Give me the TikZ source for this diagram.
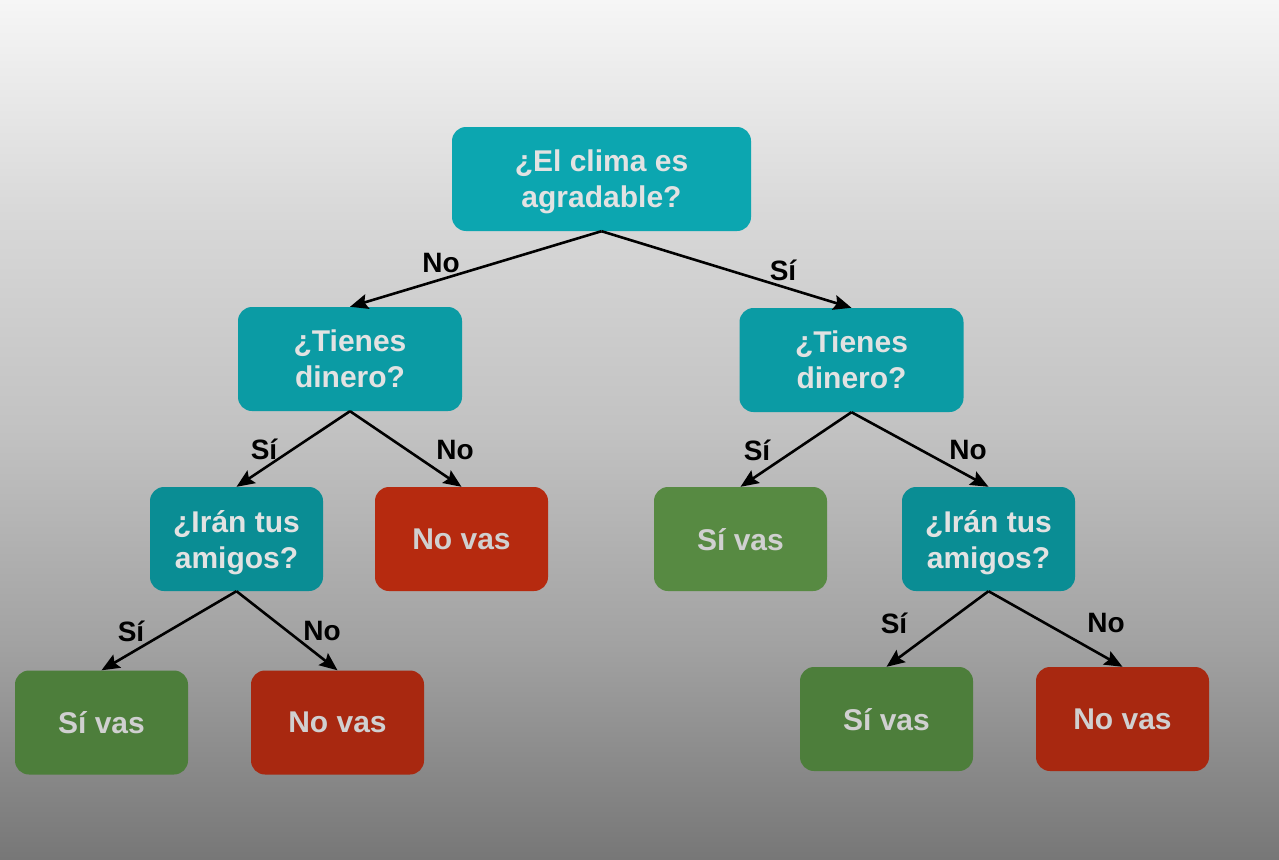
\documentclass[tikz,border=0pt]{standalone}
\usepackage{fontspec}
\setmainfont{Liberation Sans}
\usetikzlibrary{arrows.meta}
\definecolor{bgA}{HTML}{777777}
\definecolor{bgB}{HTML}{A2A2A2}
\definecolor{bgC}{HTML}{C2C2C2}
\definecolor{bgD}{HTML}{D8D8D8}
\definecolor{bgE}{HTML}{F6F6F6}
\definecolor{tealA}{HTML}{0CA6B0}
\definecolor{tealB}{HTML}{0B9BA4}
\definecolor{tealC}{HTML}{0A8D94}
\definecolor{redA}{HTML}{B62A0F}
\definecolor{redB}{HTML}{A82810}
\definecolor{greenA}{HTML}{578A42}
\definecolor{greenB}{HTML}{4D7E3B}
\definecolor{txtA}{HTML}{E2E2E2}
\definecolor{txtB}{HTML}{D0D0D0}
\pgfdeclareverticalshading{bgshade}{100bp}{color(0bp)=(bgA); color(25bp)=(bgA); color(37.5bp)=(bgB); color(50bp)=(bgC); color(62.5bp)=(bgD); color(75bp)=(bgE); color(100bp)=(bgE)}
\tikzset{
  box/.style={rounded corners=14pt, minimum height=104pt, minimum width=173pt, inner sep=0pt,
    align=center, text=txtA, font=\fontsize{30}{36}\selectfont\bfseries, text depth=-2pt},
  qa/.style={box, fill=tealA},
  qb/.style={box, fill=tealB},
  qc/.style={box, fill=tealC},
  yesA/.style={box, fill=greenA, text=txtB},
  yesB/.style={box, fill=greenB, text=txtB},
  noA/.style={box, fill=redA, text=txtB},
  noB/.style={box, fill=redB, text=txtB},
  arr/.style={draw=black, line width=2.6pt, -{Stealth[length=18pt, width=15pt, inset=3pt]}},
  lbl/.style={inner sep=0pt, font=\fontsize{28}{34}\selectfont\bfseries, text=black}
}
\begin{document}
\begin{tikzpicture}[x=1pt, y=-1pt]
\useasboundingbox (0,0) rectangle (1279,859);
\shade[shading=bgshade] (0,0) rectangle (1279,859);

\node[qa, minimum width=299pt] (root) at (601.5,179) {¿El clima es\\agradable?};
\node[qb, minimum width=224pt] (tl) at (350,359) {¿Tienes\\dinero?};
\node[qb, minimum width=224pt] (tr) at (851.5,360) {¿Tienes\\dinero?};
\node[qc] (al) at (236.5,539) {¿Irán tus\\amigos?};
\node[noA] (nl) at (461.5,539) {No vas};
\node[yesA] (sr) at (740.5,539) {Sí vas};
\node[qc] (ar) at (988.5,539) {¿Irán tus\\amigos?};
\node[yesB] (sll) at (101.5,722.5) {Sí vas};
\node[noB] (nll) at (337.5,722.5) {No vas};
\node[yesB] (srr) at (886.5,719) {Sí vas};
\node[noB] (nrr) at (1122.5,719) {No vas};

\draw[arr] (root.south) -- (tl.north);
\draw[arr] (root.south) -- (tr.north);
\draw[arr] (tl.south) -- (al.north);
\draw[arr] (tl.south) -- (nl.north);
\draw[arr] (tr.south) -- (sr.north);
\draw[arr] (tr.south) -- (ar.north);
\draw[arr] (al.south) -- (sll.north);
\draw[arr] (al.south) -- (nll.north);
\draw[arr] (ar.south) -- (srr.north);
\draw[arr] (ar.south) -- (nrr.north);

\node[lbl] (l1) at (441,263) {No};
\node[lbl] (l2) at (783,270) {Sí};
\node[lbl] (l3) at (264,449) {Sí};
\node[lbl] (l4) at (455,450) {No};
\node[lbl] (l5) at (757,450) {Sí};
\node[lbl] (l6) at (968,450) {No};
\node[lbl] (l7) at (131,631) {Sí};
\node[lbl] (l8) at (322,631) {No};
\node[lbl] (l9) at (894,623) {Sí};
\node[lbl] (l10) at (1106,623) {No};
\end{tikzpicture}
\end{document}
